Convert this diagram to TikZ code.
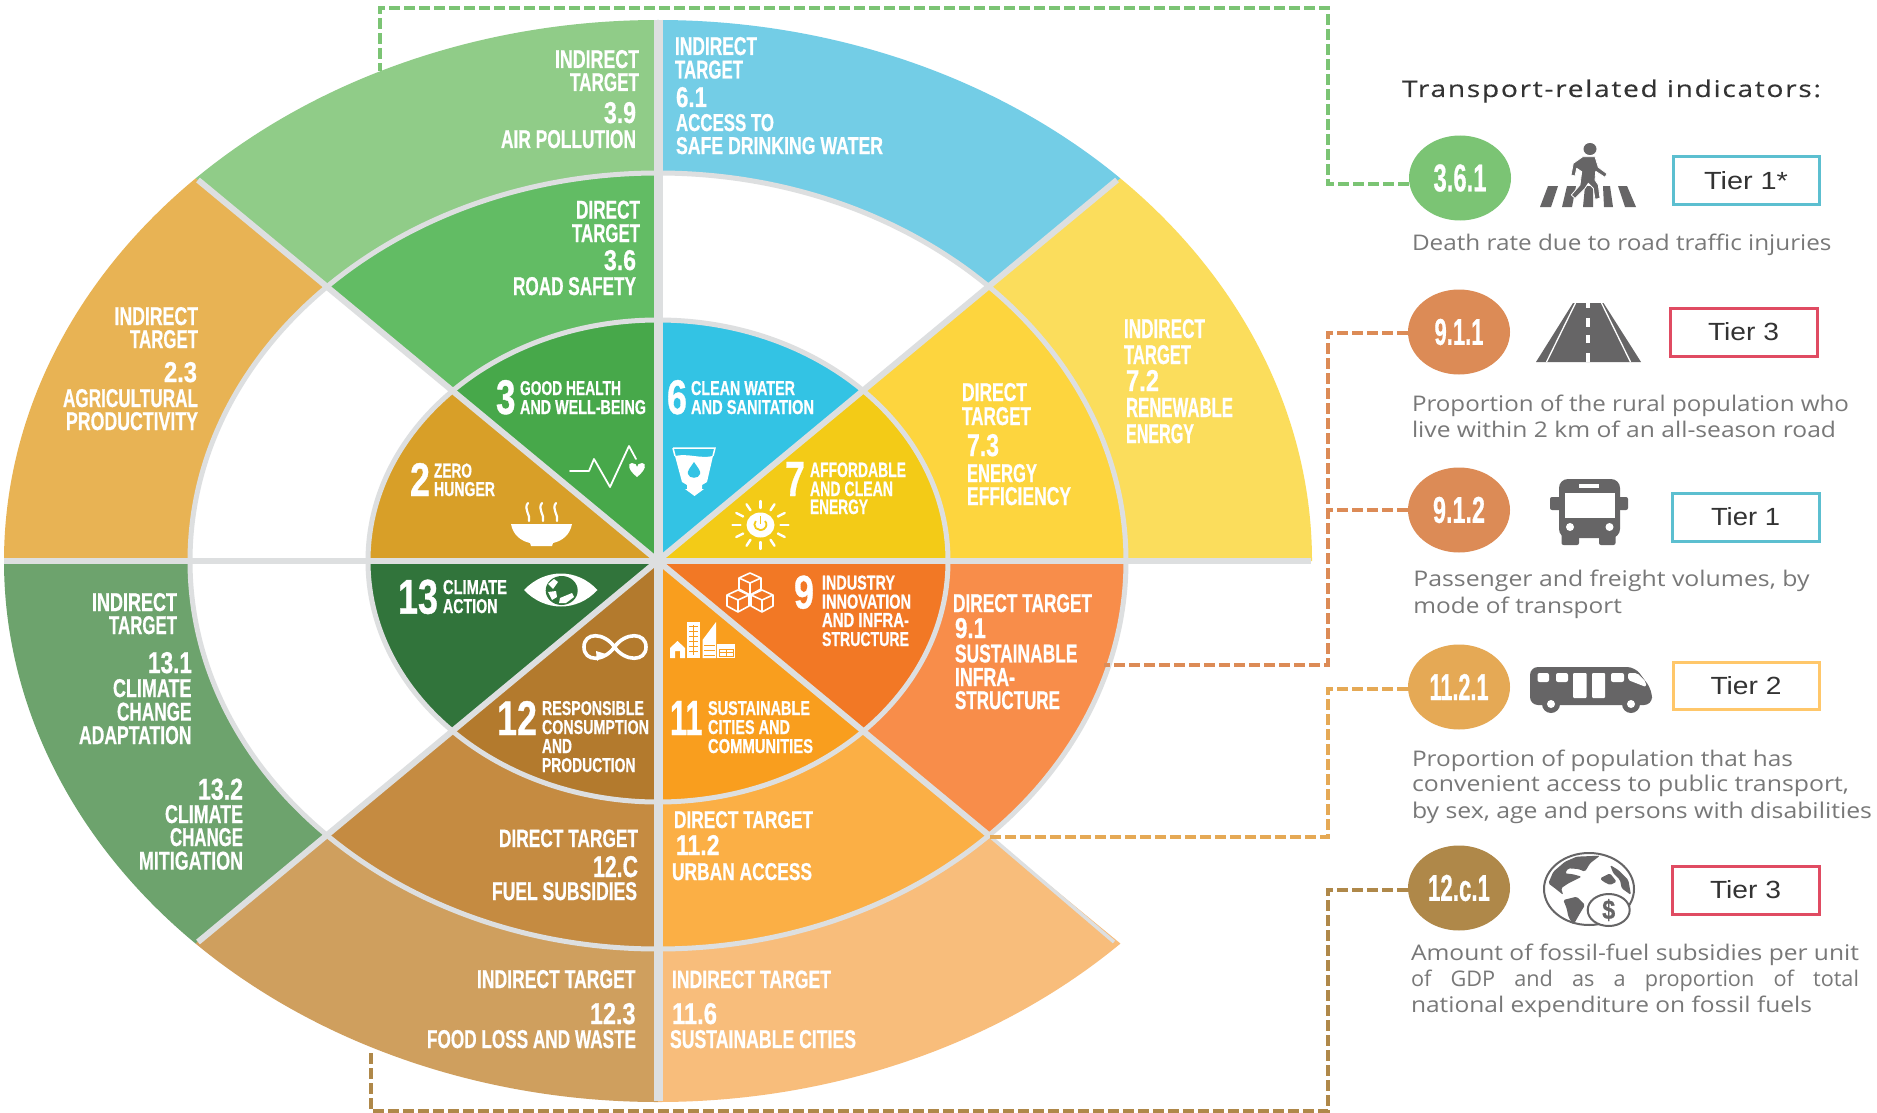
\documentclass[tikz,border=0pt]{standalone}
\usepackage{graphicx}
\usepackage{fontspec}
\setmainfont{Liberation Sans}
\newfontfamily\capf[FakeBold=0.8]{Liberation Sans Bold}
\newfontfamily\bodyf{Open Sans}
\newfontfamily\headf[FakeBold=0.25,LetterSpace=6]{Open Sans}
\usetikzlibrary{shapes.geometric}
\definecolor{gline}{HTML}{DDDFE0}
\definecolor{icong}{HTML}{666566}
\definecolor{bodyg}{HTML}{787878}
\definecolor{gthree}{HTML}{47A84A}
\definecolor{gtwo}{HTML}{D89F28}
\definecolor{gsix}{HTML}{33C3E4}
\definecolor{gseven}{HTML}{F3CB17}
\definecolor{gthirteen}{HTML}{31743B}
\definecolor{gtwelve}{HTML}{B37A2D}
\definecolor{geleven}{HTML}{F99E1E}
\definecolor{gnine}{HTML}{F27825}
\definecolor{dthree}{HTML}{62BC64}
\definecolor{dseven}{HTML}{FDD53E}
\definecolor{dnine}{HTML}{F88D4A}
\definecolor{deleven}{HTML}{FBAF45}
\definecolor{dtwelve}{HTML}{C58B41}
\definecolor{ithree}{HTML}{90CC88}
\definecolor{isix}{HTML}{73CDE6}
\definecolor{iseven}{HTML}{FBDD5C}
\definecolor{itwo}{HTML}{E8B354}
\definecolor{ithirteen}{HTML}{6DA36D}
\definecolor{itwelve}{HTML}{CF9F5E}
\definecolor{ieleven}{HTML}{F8BD7B}
\definecolor{cgreen}{HTML}{7BC474}
\definecolor{corange}{HTML}{DC8B56}
\definecolor{clight}{HTML}{E5A955}
\definecolor{cbrown}{HTML}{AF8849}
\definecolor{tblue}{HTML}{5CBFD0}
\definecolor{tred}{HTML}{E04B62}
\definecolor{tyellow}{HTML}{FFC76A}
\newcounter{lc}
\newcommand{\capl}[5]{\stepcounter{lc}\pgfmathsetmacro{\lw}{#2-#1}%
  \node[lab] (lab\arabic{lc}) at (#1,#3) {\resizebox{\lw pt}{#4pt}{\capf #5}};}
\newcommand{\bodyl}[4]{\stepcounter{lc}\pgfmathsetmacro{\lw}{#2-#1}%
  \node[lab,text=bodyg] (lab\arabic{lc}) at (#1,#3) {\resizebox{\lw pt}{16.5pt}{\bodyf\fontsize{22}{22}\selectfont\rule{0pt}{16.5pt}#4}};}
\newcommand{\ringsec}[7]{\fill[#7] (#1:#5 and #6) arc[start angle=#1,end angle=#2,x radius=#5,y radius=#6] -- (#2:#3 and #4) arc[start angle=#2,end angle=#1,x radius=#3,y radius=#4] -- cycle;}
\newcommand{\wedgesec}[3]{\fill[#3] (0,0) -- (#1:290 and 241) arc[start angle=#1,end angle=#2,x radius=290,y radius=241] -- cycle;}
\newcommand{\cubeicon}[3]{\draw[white,line width=1.6pt,line join=round,fill=#3] (#1,#2-11) -- (#1+11,#2-6) -- (#1+11,#2+5) -- (#1,#2+11) -- (#1-11,#2+5) -- (#1-11,#2-6) -- cycle (#1-11,#2-6) -- (#1,#2-1) -- (#1+11,#2-6) (#1,#2-1) -- (#1,#2+11);}
\newcommand{\tierlabel}[2]{\resizebox{#1pt}{18pt}{\fontsize{25}{25}\selectfont #2}}
\tikzset{
  lab/.style={anchor=base west,inner sep=0pt,outer sep=0pt,text=white},
  badge/.style={ellipse,fill=#1,minimum width=102pt,minimum height=85pt,inner sep=0pt,text=white},
  tierbox/.style={draw=#1,line width=3pt,fill=white,inner sep=0pt,text=black!80},
  conn/.style={draw=#1,line width=3.2pt,dash pattern=on 11pt off 4pt},
  gridline/.style={draw=gline,line width=#1},
  whitestroke/.style={draw=white,line width=#1,line cap=round,line join=round},
  iconfill/.style={fill=icong}
}
\begin{document}
\begin{tikzpicture}[x=1pt,y=-1pt]
\useasboundingbox (0,0) rectangle (1877,1113);
\fill[white] (0,0) rectangle (1877,1113);
% ---------- wheel ----------
\begin{scope}[shift={(658,561)},y=1pt]
  \ringsec{45}{90}{468}{388}{654}{541}{isix}
  \ringsec{90}{135}{468}{388}{654}{541}{ithree}
  \ringsec{135}{180}{468}{388}{654}{541}{itwo}
  \ringsec{180}{225}{468}{388}{654}{541}{ithirteen}
  \ringsec{225}{270}{468}{388}{654}{541}{itwelve}
  \ringsec{270}{315}{468}{388}{654}{541}{ieleven}
  \ringsec{0}{45}{468}{388}{654}{541}{iseven}
  \ringsec{90}{135}{290}{241}{468}{388}{dthree}
  \ringsec{0}{45}{290}{241}{468}{388}{dseven}
  \ringsec{315}{360}{290}{241}{468}{388}{dnine}
  \ringsec{270}{315}{290}{241}{468}{388}{deleven}
  \ringsec{225}{270}{290}{241}{468}{388}{dtwelve}
  \wedgesec{45}{90}{gsix}
  \wedgesec{90}{135}{gthree}
  \wedgesec{135}{180}{gtwo}
  \wedgesec{180}{225}{gthirteen}
  \wedgesec{225}{270}{gtwelve}
  \wedgesec{270}{315}{geleven}
  \wedgesec{315}{360}{gnine}
  \wedgesec{0}{45}{gseven}
  \draw[gridline=5pt] (0,0) ellipse [x radius=468,y radius=388];
  \draw[gridline=5pt] (0,0) ellipse [x radius=290,y radius=241];
  \draw[gridline=6pt] (459,381) -- (-460,-381);
  \draw[gridline=6pt] (-460,381) -- (0,0);
  \draw[gridline=6pt] (0,0) -- (315:468 and 388);
  \draw[gridline=3.5pt] (315:468 and 388) -- (456,-381);
  \draw[gridline=6pt] (-654,0) -- (653,0);
  \draw[gridline=9pt] (0,541) -- (0,-540);
\end{scope}
% ---------- badges ----------
\node[badge=cgreen] (c361) at (1460,178) {\resizebox{53pt}{27pt}{\capf 3.6.1}};
\node[badge=corange] (c911) at (1459,332) {\resizebox{49pt}{26pt}{\capf 9.1.1}};
\node[badge=corange] (c912) at (1459,510) {\resizebox{52pt}{26pt}{\capf 9.1.2}};
\node[badge=clight] (c1121) at (1459,687) {\resizebox{59pt}{26pt}{\capf 11.2.1}};
\node[badge=cbrown] (c12c1) at (1459,888) {\resizebox{62pt}{26pt}{\capf 12.c.1}};
% ---------- connectors ----------
\coordinate (g1) at (1328,184); \coordinate (g2) at (1328,8); \coordinate (g3) at (380,8); \coordinate (g4) at (380,71);
\draw[conn=cgreen] (c361.west |- g1) -- (g1) -- (g2) -- (g3) -- (g4);
\coordinate (o1) at (1328,333); \coordinate (o2) at (1328,665); \coordinate (o3) at (1104,665);
\draw[conn=corange] (c911.west |- o1) -- (o1) -- (o2) -- (o3);
\coordinate (o4) at (1328,510);
\draw[conn=corange] (c912.west) -- (o4);
\coordinate (l1) at (1328,689); \coordinate (l2) at (1328,837); \coordinate (l3) at (986,837);
\draw[conn=clight] (c1121.west |- l1) -- (l1) -- (l2) -- (l3);
\coordinate (b1) at (1328,890); \coordinate (b2) at (1328,1111); \coordinate (b3) at (371,1111); \coordinate (b4) at (371,1049);
\draw[conn=cbrown] (c12c1.west |- b1) -- (b1) -- (b2) -- (b3) -- (b4);
% ---------- wheel texts ----------
\capl{555}{639}{68}{18}{INDIRECT}
\capl{570}{639}{91}{18}{TARGET}
\capl{604}{636}{123}{21}{3.9}
\capl{501}{636}{148}{18}{AIR POLLUTION}
\capl{576}{640}{218.6}{18}{DIRECT}
\capl{572}{640}{242}{18}{TARGET}
\capl{604}{636}{270}{20}{3.6}
\capl{513}{636}{295}{18}{ROAD SAFETY}
\capl{114.5}{198}{325}{18}{INDIRECT}
\capl{130}{198}{348}{18}{TARGET}
\capl{164}{197}{382}{20}{2.3}
\capl{63}{198}{407}{18}{AGRICULTURAL}
\capl{66}{198}{430}{18}{PRODUCTIVITY}
\capl{496}{515.5}{414}{34}{3}
\capl{520}{621}{395}{14}{GOOD HEALTH}
\capl{520}{646}{414}{14}{AND WELL-BEING}
\capl{410}{430}{496}{33}{2}
\capl{434}{472}{477.5}{14}{ZERO}
\capl{434}{495}{496}{14}{HUNGER}
\capl{675}{757}{55}{18}{INDIRECT}
\capl{675}{743}{78.5}{18}{TARGET}
\capl{676}{707}{107}{20}{6.1}
\capl{676}{774}{131}{17}{ACCESS TO}
\capl{676}{883}{154}{17}{SAFE DRINKING WATER}
\capl{1124}{1205}{338}{19}{INDIRECT}
\capl{1124}{1191}{364}{19}{TARGET}
\capl{1126}{1159}{391}{21}{7.2}
\capl{1126}{1233}{417}{19}{RENEWABLE}
\capl{1126}{1194}{443}{19}{ENERGY}
\capl{962}{1027}{401}{18}{DIRECT}
\capl{962}{1031}{425}{18}{TARGET}
\capl{967}{999}{456}{22}{7.3}
\capl{967}{1037}{482}{18}{ENERGY}
\capl{967}{1071}{505}{18}{EFFICIENCY}
\capl{667}{687}{414}{34}{6}
\capl{691}{795}{395}{14}{CLEAN WATER}
\capl{691}{814}{414}{14}{AND SANITATION}
\capl{785}{805}{496}{34}{7}
\capl{810}{906}{477}{14.5}{AFFORDABLE}
\capl{810}{893}{496}{14.5}{AND CLEAN}
\capl{810}{868}{514}{14.5}{ENERGY}
\capl{92}{177}{611}{18}{INDIRECT}
\capl{109}{177}{634}{18}{TARGET}
\capl{148}{192}{673}{21}{13.1}
\capl{113}{191.5}{697}{18}{CLIMATE}
\capl{117}{191.5}{720.6}{18}{CHANGE}
\capl{79}{191.5}{744}{18}{ADAPTATION}
\capl{198}{243}{799.6}{21}{13.2}
\capl{165}{243}{823}{18}{CLIMATE}
\capl{170}{243}{846}{18}{CHANGE}
\capl{139}{243}{869.6}{18}{MITIGATION}
\capl{398}{438}{613.6}{34}{13}
\capl{443}{507}{594}{14}{CLIMATE}
\capl{443}{497.5}{613}{14}{ACTION}
\capl{497}{537}{735}{34}{12}
\capl{542}{644}{715}{14}{RESPONSIBLE}
\capl{542}{649}{734}{14}{CONSUMPTION}
\capl{542}{572}{753}{14}{AND}
\capl{542}{635.5}{772}{14}{PRODUCTION}
\capl{499}{638}{847}{17.5}{DIRECT TARGET}
\capl{593}{638}{877}{21}{12.C}
\capl{492}{637}{900}{18}{FUEL SUBSIDIES}
\capl{477}{635.5}{988}{18}{INDIRECT TARGET}
\capl{590}{635.5}{1024}{21}{12.3}
\capl{427}{636}{1048}{18}{FOOD LOSS AND WASTE}
\capl{794}{814}{608.5}{33}{9}
\capl{822}{895}{589.5}{14}{INDUSTRY}
\capl{822}{911}{608.5}{14}{INNOVATION}
\capl{822}{909}{627}{14}{AND INFRA-}
\capl{822}{909}{646}{14}{STRUCTURE}
\capl{670}{702.5}{735}{34}{11}
\capl{708}{810}{715}{14}{SUSTAINABLE}
\capl{708}{790}{734}{14}{CITIES AND}
\capl{708}{813}{753}{14}{COMMUNITIES}
\capl{953}{1092}{612}{18}{DIRECT TARGET}
\capl{955}{986}{638}{20}{9.1}
\capl{955}{1077.5}{662.4}{18}{SUSTAINABLE}
\capl{955}{1015}{686}{18}{INFRA-}
\capl{955}{1060}{709}{18}{STRUCTURE}
\capl{674}{813}{828}{17}{DIRECT TARGET}
\capl{676}{719.5}{855}{20}{11.2}
\capl{672}{812}{880}{17}{URBAN ACCESS}
\capl{672}{831}{988}{17.5}{INDIRECT TARGET}
\capl{672}{717}{1024}{21}{11.6}
\capl{670}{856}{1048}{18}{SUSTAINABLE CITIES}
% ---------- wheel icons ----------
% heartbeat
\draw[whitestroke=1.8pt] (570,471) -- (589,471) -- (594,459) -- (610,487) -- (629,446) -- (636,459);
\fill[white] (637,477) .. controls (628,470) and (627,463) .. (632,463) .. controls (635,463) and (637,465) .. (637,467) .. controls (637,465) and (639,463) .. (642,463) .. controls (647,463) and (646,470) .. (637,477) -- cycle;
% soup bowl
\fill[white] (511,524) -- (572,524) .. controls (570,535) and (562,541) .. (553,543) -- (552,546) -- (531,546) -- (530,543) .. controls (521,541) and (513,535) .. (511,524) -- cycle;
\foreach \sx in {528,542,556}{
  \draw[whitestroke=2.2pt] (\sx,503) .. controls (\sx-5,509) and (\sx+3,515) .. (\sx+1,521);
}
% glass
\draw[white,line width=1.5pt] (673,448) -- (715,448) -- (713,456) (673,448) -- (675,456);
\fill[white] (675,456) .. controls (688,453) and (700,459) .. (713,456) -- (707,482) -- (702,485) -- (702,489) -- (704,489) -- (694.5,496) -- (685,489) -- (687,489) -- (687,485) -- (682,482) -- cycle;
\fill[gsix] (694,462) .. controls (690,468) and (687,471) .. (688,474) .. controls (689,479) and (699,479) .. (700,474) .. controls (701,471) and (698,468) .. (694,462) -- cycle;
% sun
\foreach \a in {0,30,...,330}{
  \draw[whitestroke=2.4pt] ({760.5+20*cos(\a)},{525+17*sin(\a)}) -- ({760.5+28*cos(\a)},{525+24*sin(\a)});
}
\fill[white] (760.5,525) ellipse [x radius=14,y radius=12.5];
\draw[gseven,line width=1.8pt] (765,521) arc[start angle=-40,end angle=220,x radius=6,y radius=5.5];
\draw[gseven,line width=1.8pt] (760.5,516) -- (760.5,524);
% eye
\fill[white] (524,590) .. controls (545,568) and (577,568) .. (597.5,590) .. controls (577,612) and (545,612) .. (524,590) -- cycle;
\fill[gthirteen] (561.7,590.5) ellipse [x radius=16,y radius=14.5];
\fill[white] (548,584) -- (554,579) -- (558,582) -- (553,589) -- cycle;
\fill[white] (548,592) -- (556,591) -- (557,597) -- (552,600) -- cycle;
\fill[white] (560,598) -- (572,593) -- (574,597) -- (566,603) -- (559,603) -- cycle;
% infinity
\draw[white,line width=3.6pt] (614.5,647) .. controls (604,632) and (584,632) .. (584,647) .. controls (584,662) and (604,662) .. (614.5,647) .. controls (625,632) and (646,632) .. (646,647) .. controls (646,662) and (625,662) .. (614.5,647);
\fill[white] (596,651) -- (606,654) -- (597,661) -- cycle;
% cubes
\cubeicon{750}{584}{gnine}
\cubeicon{738}{601}{gnine}
\cubeicon{762}{601}{gnine}
% city
\fill[white] (687,622) rectangle (700,658);
\foreach \yy in {626,631,...,654}{\draw[geleven,line width=0.7pt] (689,\yy) -- (698,\yy);}
\draw[geleven,line width=0.7pt] (693.5,625) -- (693.5,655);
\fill[white] (702.5,658) -- (702.5,640) -- (716,622) -- (716,658) -- cycle;
\foreach \yy in {645,650,655}{\draw[geleven,line width=0.7pt] (704,\yy) -- (715,\yy);}
\fill[white] (670,658) -- (670,648) -- (677.5,641) -- (685,648) -- (685,658) -- (680,658) -- (680,651) -- (675,651) -- (675,658) -- cycle;
\fill[white] (717,644) rectangle (735,658);
\draw[geleven,line width=0.8pt] (719,649) rectangle (733,656) (726,649) -- (726,656) (719,652.5) -- (733,652.5);
% ---------- right panel ----------
\stepcounter{lc}\node[lab,text=black!80] (lab\arabic{lc}) at (1402,97) {\resizebox{419pt}{17.5pt}{\headf\fontsize{24}{24}\selectfont\rule{0pt}{17.5pt}Transport-related indicators:}};
% tier boxes
\node[tierbox=tblue,minimum width=146pt,minimum height=47pt] (t1) at (1746,180.5) {\tierlabel{84}{Tier 1*}};
\node[tierbox=tred,minimum width=147pt,minimum height=48pt] (t2) at (1743.5,332) {\tierlabel{71}{Tier 3}};
\node[tierbox=tblue,minimum width=147pt,minimum height=48pt] (t3) at (1745.5,517) {\tierlabel{69}{Tier 1}};
\node[tierbox=tyellow,minimum width=146pt,minimum height=47pt] (t4) at (1746,685.5) {\tierlabel{71}{Tier 2}};
\node[tierbox=tred,minimum width=147pt,minimum height=48pt] (t5) at (1745.5,890) {\tierlabel{71}{Tier 3}};
% body text
\bodyl{1412}{1831.5}{250.7}{Death rate due to road traffic injuries}
\bodyl{1412}{1849}{411}{Proportion of the rural population who}
\bodyl{1412}{1836}{437.7}{live within 2 km of an all-season road}
\bodyl{1413.4}{1809.5}{586.7}{Passenger and freight volumes, by}
\bodyl{1413.4}{1622}{613}{mode of transport}
\bodyl{1412}{1793}{766}{Proportion of population that has}
\bodyl{1412}{1849}{791.7}{convenient access to public transport,}
\bodyl{1412}{1872}{818}{by sex, age and persons with disabilities}
\bodyl{1411}{1859}{960}{Amount of fossil-fuel subsidies per unit}
\bodyl{1411}{1859}{986.7}{\makebox[455pt][s]{of GDP and as a proportion of total}}
\bodyl{1411}{1812}{1012}{national expenditure on fossil fuels}
% pedestrian icon
\fill[iconfill] (1540,207) -- (1551,207) -- (1558,186) -- (1548,186) -- cycle;
\fill[iconfill] (1562,207) -- (1572,207) -- (1576,186) -- (1567,186) -- cycle;
\fill[iconfill] (1583,207) -- (1593,207) -- (1593,186) -- (1585,186) -- cycle;
\fill[iconfill] (1604,207) -- (1613,207) -- (1610,186) -- (1603,186) -- cycle;
\fill[iconfill] (1625,207) -- (1636,207) -- (1627,186) -- (1618,186) -- cycle;
\fill[iconfill] (1590,149) ellipse [x radius=6.5,y radius=6];
\filldraw[fill=icong,draw=white,line width=0.8pt,line join=round] (1582.7,156.7) -- (1595,156.7) -- (1598.3,167.3) -- (1607,173.7) -- (1605,177.3) -- (1595.7,171.3) -- (1595,180) -- (1598.3,185) -- (1600,198.3) -- (1595,199.3) -- (1593.3,188.3) -- (1588.3,183.3) -- (1585,188.3) -- (1575,198.3) -- (1571.3,195) -- (1580,185) -- (1581.7,171.7) -- (1576.7,168.3) -- (1575,176) -- (1571,175) -- (1573.3,163.3) -- cycle;
% road icon
\fill[iconfill] (1573,303) -- (1603.5,303) -- (1641,362) -- (1536,362) -- cycle;
\draw[white,line width=1.3pt] (1575.5,303) -- (1546.5,362) (1601.5,303) -- (1630.5,362);
\foreach \ya/\yb in {303/308,318/327,335/343,353/362}{\fill[white] (1586,\ya) rectangle (1590,\yb);}
% bus front icon
\fill[iconfill,rounded corners=9pt] (1559,479) rectangle (1620,538);
\fill[iconfill,rounded corners=2pt] (1550,497) rectangle (1628,510);
\fill[iconfill,rounded corners=2pt] (1561.5,532) rectangle (1579,545);
\fill[iconfill,rounded corners=2pt] (1599,532) rectangle (1615.5,545);
\fill[white] (1565,493) rectangle (1615,518);
\fill[white] (1579,484) rectangle (1599,488);
\fill[white] (1570,527) circle [radius=4];
\fill[white] (1609.5,527) circle [radius=4];
% bus side icon
\fill[iconfill,rounded corners=8pt] (1530,667) -- (1635,667) -- (1652,690) -- (1652,705) -- (1530,705) -- cycle;
\foreach \xa/\xb in {1537.5/1549,1556/1568,1611/1624}{\fill[white,rounded corners=2pt] (\xa,673) rectangle (\xb,682);}
\foreach \xa/\xb in {1573/1586.5,1592/1605}{\fill[white,rounded corners=1pt] (\xa,673) rectangle (\xb,698);}
\fill[white,rounded corners=2pt] (1628,673) -- (1637,673) -- (1646,682) -- (1646,687) -- (1628,680) -- cycle;
\fill[iconfill] (1551,704) circle [radius=9];
\fill[iconfill] (1631,704) circle [radius=9];
\fill[white] (1551,704) circle [radius=4];
\fill[white] (1631,704) circle [radius=4];
% globe icon
\draw[icong,line width=2pt,fill=white] (1589,889) ellipse [x radius=45,y radius=36];
\begin{scope}[shift={(1535,845)},x=0.3333pt,y=-0.3333pt]
  \fill[iconfill,rounded corners=1.5pt] (40,115) -- (55,80) -- (90,50) -- (125,35) -- (195,32) -- (165,55) -- (150,80) -- (130,72) -- (100,70) -- (90,85) -- (115,88) -- (140,95) -- (100,115) -- (78,130) -- (85,150) -- (60,130) -- cycle;
  \fill[iconfill,rounded corners=1.5pt] (85,165) -- (125,155) -- (150,180) -- (135,205) -- (115,240) -- (100,215) -- (95,190) -- cycle;
  \fill[iconfill,rounded corners=1.5pt] (195,100) -- (225,85) -- (245,110) -- (225,120) -- (205,110) -- cycle;
  \fill[iconfill,rounded corners=1.5pt] (225,60) -- (250,75) -- (280,105) -- (288,150) -- (260,130) -- (255,105) -- (235,85) -- cycle;
\end{scope}
\draw[icong,line width=2pt,fill=white] (1608.7,910) ellipse [x radius=21,y radius=16];
\stepcounter{lc}\node[inner sep=0pt,text=icong] (lab\arabic{lc}) at (1608.7,910) {\resizebox{13pt}{20pt}{\capf \$}};
\end{tikzpicture}
\end{document}
